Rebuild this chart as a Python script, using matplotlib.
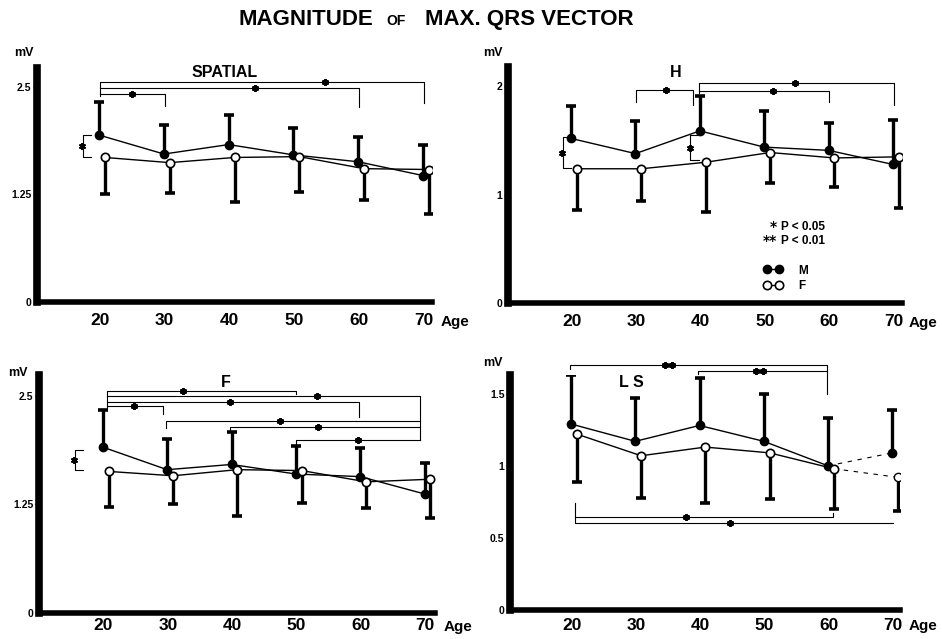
import matplotlib.pyplot as plt
import numpy as np

plt.rcParams['font.family'] = ['Liberation Sans', 'DejaVu Sans']
plt.rcParams['font.weight'] = 'bold'

W, H = 942, 639
ages = np.array([20, 30, 40, 50, 60, 70])

# means and ends of the SD bars (M bar goes up, F bar goes down)
spatial_m = [1.94, 1.72, 1.83, 1.71, 1.63, 1.47]
spatial_m_top = [2.32, 2.06, 2.17, 2.02, 1.92, 1.83]
spatial_f = [1.68, 1.62, 1.68, 1.69, 1.55, 1.54]
spatial_f_low = [1.26, 1.27, 1.16, 1.28, 1.19, 1.02]

h_m = [1.52, 1.38, 1.59, 1.44, 1.41, 1.28]
h_m_top = [1.82, 1.68, 1.91, 1.77, 1.66, 1.69]
h_f = [1.24, 1.24, 1.30, 1.39, 1.34, 1.35]
h_f_low = [0.86, 0.94, 0.84, 1.11, 1.07, 0.88]

f_m = [1.91, 1.65, 1.71, 1.60, 1.57, 1.37]
f_m_top = [2.34, 2.00, 2.08, 1.92, 1.90, 1.73]
f_f = [1.63, 1.58, 1.65, 1.64, 1.51, 1.54]
f_f_low = [1.22, 1.26, 1.12, 1.27, 1.21, 1.09]

ls_m = [1.29, 1.17, 1.28, 1.17, 1.00, 1.09]
ls_m_top = [1.63, 1.47, 1.61, 1.50, 1.33, 1.39]
ls_f = [1.22, 1.07, 1.13, 1.09, 0.98, 0.92]
ls_f_low = [0.89, 0.78, 0.74, 0.77, 0.70, 0.69]

# age group comparisons: (age from, age to, level, left end, right end, star at, n stars)
spatial_sig = [(20, 70, 2.56, 2.40, 2.31, 54.8, 1),
               (20, 60, 2.49, 2.49, 2.27, 44.0, 1),
               (20, 30, 2.42, 2.42, 2.28, 24.9, 1)]
h_sig = [(30, 38.8, 1.97, 1.86, 1.83, 34.7, 1),
         (39.7, 70, 2.03, 1.94, 1.83, 54.7, 1),
         (39.7, 60, 1.96, 1.96, 1.86, 51.3, 1)]
f_sig = [(20.5, 49.9, 2.56, 2.36, 2.52, 32.4, 1),
         (20.5, 69.1, 2.50, 2.50, 1.99, 53.1, 1),
         (20.5, 59.7, 2.43, 2.43, 2.26, 39.7, 1),
         (20.5, 29.3, 2.38, 2.38, 2.29, 24.7, 1),
         (29.7, 69.1, 2.21, 2.13, 2.21, 47.4, 1),
         (39.7, 69.1, 2.14, 2.10, 2.14, 53.3, 1),
         (49.9, 69.1, 1.99, 1.95, 1.99, 59.6, 1)]
ls_sig = [(19.8, 59.7, 1.70, 1.67, 1.50, 35.1, 2),
          (39.7, 59.7, 1.66, 1.64, 1.66, 49.3, 2),
          (20.5, 60.6, 0.647, 0.647, 0.67, 37.8, 1),
          (20.5, 70.0, 0.605, 0.74, 0.605, 44.6, 1)]

# M vs F comparisons: (age, upper, lower)
spatial_mf = [(17.4, 1.94, 1.68)]
h_mf = [(18.6, 1.53, 1.25), (38.4, 1.55, 1.32)]
f_mf = [(15.6, 1.88, 1.65)]
ls_mf = []

fig = plt.figure(figsize=(W / 100, H / 100), dpi=100)


def star(ax, x, y, n):
    xs = x + (np.arange(n) - (n - 1) / 2) * 1.1
    ax.plot(xs, [y] * n, ls='none', marker=(6, 2, 0), ms=5, mew=1.4,
            color='k', clip_on=False, zorder=4)


def panel(box, m, m_top, f, f_low, sig, mf, yticks, ylabels, ytop, xlim,
          name, name_xy, mv_off, age_off, xpad, broken=False):
    l, t, r, b = box
    ax = fig.add_axes([l / W, 1 - b / H, (r - l) / W, (b - t) / H])
    xm = ages - 0.1
    xf = ages + 0.8
    ax.vlines(xm, m, m_top, color='k', lw=2.4, zorder=2)
    ax.plot(xm, m_top, ls='none', marker='_', ms=6.5, mew=2.6, color='k')
    ax.vlines(xf, f_low, f, color='k', lw=2.4, zorder=2)
    ax.plot(xf, f_low, ls='none', marker='_', ms=6.5, mew=2.6, color='k')
    n = 5 if broken else 6
    lm, = ax.plot(xm[:n], m[:n], '-', color='k', lw=1, marker='o', ms=6,
                  mfc='k', mec='k', zorder=3)
    lf, = ax.plot(xf[:n], f[:n], '-', color='k', lw=1, marker='o', ms=6,
                  mfc='white', mec='k', mew=1.2, zorder=3)
    if broken:
        # last segment is mostly lost in the print
        ax.plot(xm[4:], m[4:], color='k', lw=0.8, ls=(0, (4, 5)), zorder=1)
        ax.plot(xf[4:], f[4:], color='k', lw=0.8, ls=(0, (4, 5)), zorder=1)
        ax.plot(xm[5:], m[5:], 'o', color='k', ms=6, zorder=3)
        ax.plot(xf[5:], f[5:], 'o', mfc='white', mec='k', mew=1.0, ms=6, zorder=3)

    for x1, x2, y, y1, y2, sx, ns in sig:
        ax.plot([x1, x1, x2, x2], [y1, y, y, y2], color='k', lw=0.8,
                clip_on=False, zorder=2)
        star(ax, sx, y, ns)
    for x, y1, y2 in mf:
        ax.plot([x + 1.3, x, x, x + 1.3], [y1, y1, y2, y2], color='k', lw=0.8)
        star(ax, x - 0.1, (y1 + y2) / 2, 1)

    ax.set_xlim(*xlim)
    ax.set_ylim(0, ytop)
    ax.set_xticks(ages)
    ax.set_xticklabels([str(a) for a in ages])
    ax.set_yticks(yticks)
    ax.set_yticklabels(ylabels)
    ax.tick_params(axis='x', length=0, pad=xpad, labelsize=12.5)
    ax.tick_params(axis='y', direction='out', length=3, width=1, pad=1,
                   labelsize=7.5)
    for s in ['top', 'right']:
        ax.spines[s].set_visible(False)
    ax.spines['left'].set_linewidth(5.5)
    ax.spines['bottom'].set_linewidth(4)
    ax.spines['left'].set_capstyle('projecting')
    ax.spines['bottom'].set_capstyle('projecting')

    ax.text(name_xy[0], name_xy[1], name, ha='center', va='center',
            fontsize=11.5)
    ax.annotate('mV', xy=(0, 1), xycoords='axes fraction', xytext=mv_off,
                textcoords='offset pixels', ha='center', va='center',
                fontsize=9)
    ax.annotate('Age', xy=(1, 0), xycoords='axes fraction', xytext=age_off,
                textcoords='offset pixels', ha='center', va='center',
                fontsize=11)
    return ax, lm, lf


fig.text(239 / W, 1 - 25 / H, 'MAGNITUDE', fontsize=16, ha='left', va='baseline')
fig.text(386 / W, 1 - 25 / H, 'OF', fontsize=10, ha='left', va='baseline')
fig.text(425 / W, 1 - 25 / H, 'MAX. QRS VECTOR', fontsize=16, ha='left',
         va='baseline')

panel((37, 68, 432, 302), spatial_m, spatial_m_top, spatial_f, spatial_f_low,
      spatial_sig, spatial_mf, [0, 1.25, 2.5], ['0', '1.25', '2.5'], 2.72,
      (10.3, 71.3), 'SPATIAL', (39.2, 2.67), (-13, 15), (23, -20), 8)

ax2, lm, lf = panel((508, 67, 902, 303), h_m, h_m_top, h_f, h_f_low, h_sig,
                    h_mf, [0, 1, 2], ['0', '1', '2'], 2.18, (10.1, 71.3),
                    'H', (36.2, 2.13), (-15, 14), (21, -20), 8)
ax2.text(51.9, 0.70, '*', ha='right', va='center', fontsize=10,
         family='DejaVu Sans')
ax2.text(52.5, 0.70, 'P < 0.05', ha='left', va='center', fontsize=8.5)
ax2.text(51.9, 0.574, '**', ha='right', va='center', fontsize=10,
         family='DejaVu Sans')
ax2.text(52.5, 0.574, 'P < 0.01', ha='left', va='center', fontsize=8.5)
ax2.legend([lm, lf], ['M', 'F'], numpoints=2, loc='upper left',
           bbox_to_anchor=(0.648, 0.163), frameon=False, handlelength=1.6,
           handletextpad=1.4, fontsize=8.5, labelspacing=0.3, borderpad=0,
           borderaxespad=0)

panel((39, 375, 435, 613), f_m, f_m_top, f_f, f_f_low, f_sig, f_mf,
      [0, 1.25, 2.5], ['0', '1.25', '2.5'], 2.74, (10.0, 71.5),
      'F', (39.0, 2.65), (-21, 2), (23, -14), 3.5)

panel((510, 375, 900, 610), ls_m, ls_m_top, ls_f, ls_f_low, ls_sig, ls_mf,
      [0, 0.5, 1, 1.5], ['0', '0.5', '1', '1.5'], 1.63, (10.4, 71.1),
      'L S', (29.3, 1.575), (-17, 12), (23, -16), 5.5, broken=True)

fig.savefig('out.png', dpi=100)
